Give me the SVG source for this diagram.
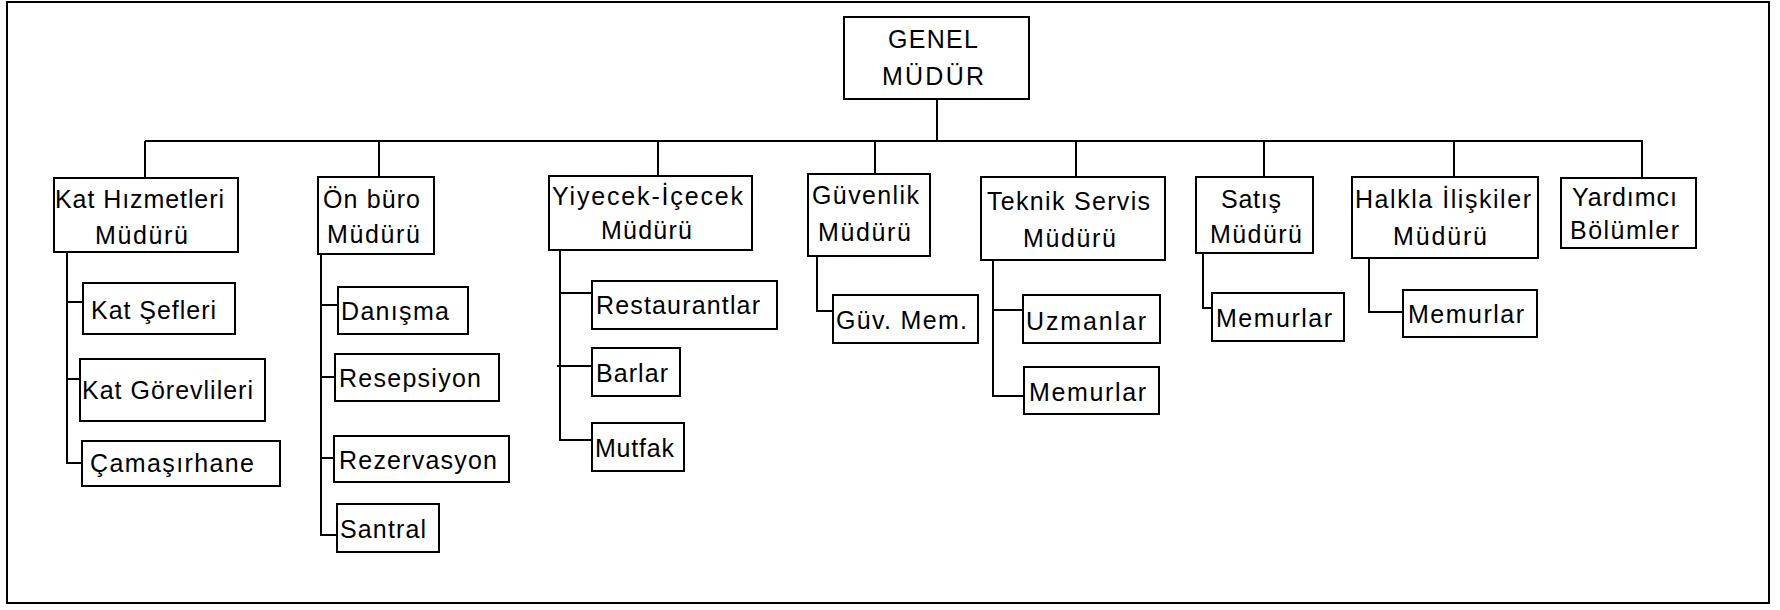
<svg xmlns="http://www.w3.org/2000/svg" width="1780" height="610" viewBox="0 0 1780 610">
  <style>
    .box { fill: #ffffff; stroke: #000000; stroke-width: 2; }
    .wire { fill: none; stroke: #000000; stroke-width: 2; }
    .lbl { font-family: "Liberation Sans", Arial, sans-serif; font-size: 25px; fill: #000000; }
  </style>

  <rect x="0" y="0" width="1780" height="610" fill="#ffffff"/>
  <!-- outer frame -->
  <rect x="7" y="2" width="1762" height="601" class="wire"/>

  <g id="connectors">
    <!-- top bus -->
    <path class="wire" d="M937,100 V141 M145,141 H1643"/>
    <path class="wire" d="M145,141 V179 M379,141 V177 M658,141 V176 M875,141 V174 M1076,141 V177 M1264,141 V177 M1454,141 V177 M1642,141 V178"/>
    <!-- Kat Hizmetleri branch -->
    <path class="wire" d="M67,252 V463 H82 M67,302 H83 M67,379 H80"/>
    <!-- Ön büro branch -->
    <path class="wire" d="M321,254 V535 H337 M321,305 H338 M321,377 H335 M321,458 H334"/>
    <!-- Yiyecek-İçecek branch -->
    <path class="wire" d="M560,250 V440 H592 M560,293 H592 M557,366 H592"/>
    <!-- Güvenlik branch -->
    <path class="wire" d="M817,256 V311 H833"/>
    <!-- Teknik Servis branch -->
    <path class="wire" d="M993,260 V396 H1024 M993,310 H1023"/>
    <!-- Satış branch -->
    <path class="wire" d="M1203,253 V308 H1212"/>
    <!-- Halkla İlişkiler branch -->
    <path class="wire" d="M1369,258 V312 H1403"/>
  </g>

  <g id="genel-mudur">
    <rect class="box" x="844" y="17" width="185" height="82"/>
    <text class="lbl" x="888" y="48" textLength="90" lengthAdjust="spacing">GENEL</text>
    <text class="lbl" x="882" y="85" textLength="102" lengthAdjust="spacing">MÜDÜR</text>
  </g>

  <g id="kat-hizmetleri">
    <rect class="box" x="54" y="178" width="184" height="74"/>
    <text class="lbl" x="55" y="208" textLength="169" lengthAdjust="spacing">Kat Hızmetleri</text>
    <text class="lbl" x="95" y="244" textLength="93" lengthAdjust="spacing">Müdürü</text>
  </g>
  <g id="on-buro">
    <rect class="box" x="318" y="177" width="116" height="77"/>
    <text class="lbl" x="323" y="208" textLength="97" lengthAdjust="spacing">Ön büro</text>
    <text class="lbl" x="327" y="243" textLength="93" lengthAdjust="spacing">Müdürü</text>
  </g>
  <g id="yiyecek-icecek">
    <rect class="box" x="549" y="176" width="203" height="74"/>
    <text class="lbl" x="552" y="205" textLength="191" lengthAdjust="spacing">Yiyecek-İçecek</text>
    <text class="lbl" x="601" y="239" textLength="91" lengthAdjust="spacing">Müdürü</text>
  </g>
  <g id="guvenlik">
    <rect class="box" x="808" y="174" width="122" height="82"/>
    <text class="lbl" x="812" y="204" textLength="107" lengthAdjust="spacing">Güvenlik</text>
    <text class="lbl" x="818" y="241" textLength="93" lengthAdjust="spacing">Müdürü</text>
  </g>
  <g id="teknik-servis">
    <rect class="box" x="981" y="177" width="184" height="83"/>
    <text class="lbl" x="987" y="210" textLength="163" lengthAdjust="spacing">Teknik Servis</text>
    <text class="lbl" x="1023" y="247" textLength="93" lengthAdjust="spacing">Müdürü</text>
  </g>
  <g id="satis">
    <rect class="box" x="1196" y="177" width="117" height="76"/>
    <text class="lbl" x="1221" y="208" textLength="60" lengthAdjust="spacing">Satış</text>
    <text class="lbl" x="1210" y="243" textLength="92" lengthAdjust="spacing">Müdürü</text>
  </g>
  <g id="halkla-iliskiler">
    <rect class="box" x="1352" y="177" width="186" height="81"/>
    <text class="lbl" x="1355" y="208" textLength="176" lengthAdjust="spacing">Halkla İlişkiler</text>
    <text class="lbl" x="1393" y="245" textLength="94" lengthAdjust="spacing">Müdürü</text>
  </g>
  <g id="yardimci">
    <rect class="box" x="1561" y="178" width="135" height="70"/>
    <text class="lbl" x="1572" y="206" textLength="105" lengthAdjust="spacing">Yardımcı</text>
    <text class="lbl" x="1570" y="239" textLength="109" lengthAdjust="spacing">Bölümler</text>
  </g>

  <g id="kat-sefleri">
    <rect class="box" x="83" y="283" width="152" height="51"/>
    <text class="lbl" x="91" y="319" textLength="125" lengthAdjust="spacing">Kat Şefleri</text>
  </g>
  <g id="kat-gorevlileri">
    <rect class="box" x="80" y="359" width="185" height="62"/>
    <text class="lbl" x="82" y="399" textLength="171" lengthAdjust="spacing">Kat Görevlileri</text>
  </g>
  <g id="camasirhane">
    <rect class="box" x="82" y="441" width="198" height="45"/>
    <text class="lbl" x="90" y="472" textLength="164" lengthAdjust="spacing">Çamaşırhane</text>
  </g>

  <g id="danisma">
    <rect class="box" x="338" y="287" width="130" height="47"/>
    <text class="lbl" x="341" y="320" textLength="108" lengthAdjust="spacing">Danışma</text>
  </g>
  <g id="resepsiyon">
    <rect class="box" x="335" y="354" width="164" height="47"/>
    <text class="lbl" x="339" y="387" textLength="142" lengthAdjust="spacing">Resepsiyon</text>
  </g>
  <g id="rezervasyon">
    <rect class="box" x="334" y="436" width="175" height="46"/>
    <text class="lbl" x="339" y="469" textLength="158" lengthAdjust="spacing">Rezervasyon</text>
  </g>
  <g id="santral">
    <rect class="box" x="337" y="504" width="102" height="48"/>
    <text class="lbl" x="340" y="538" textLength="86" lengthAdjust="spacing">Santral</text>
  </g>

  <g id="restaurantlar">
    <rect class="box" x="592" y="281" width="185" height="48"/>
    <text class="lbl" x="596" y="314" textLength="164" lengthAdjust="spacing">Restaurantlar</text>
  </g>
  <g id="barlar">
    <rect class="box" x="592" y="348" width="88" height="48"/>
    <text class="lbl" x="596" y="382" textLength="72" lengthAdjust="spacing">Barlar</text>
  </g>
  <g id="mutfak">
    <rect class="box" x="592" y="423" width="92" height="48"/>
    <text class="lbl" x="595" y="457" textLength="79" lengthAdjust="spacing">Mutfak</text>
  </g>

  <g id="guv-mem">
    <rect class="box" x="833" y="295" width="145" height="48"/>
    <text class="lbl" x="836" y="329" textLength="131" lengthAdjust="spacing">Güv. Mem.</text>
  </g>

  <g id="uzmanlar">
    <rect class="box" x="1023" y="295" width="137" height="48"/>
    <text class="lbl" x="1026" y="330" textLength="120" lengthAdjust="spacing">Uzmanlar</text>
  </g>
  <g id="teknik-memurlar">
    <rect class="box" x="1024" y="367" width="135" height="47"/>
    <text class="lbl" x="1029" y="401" textLength="117" lengthAdjust="spacing">Memurlar</text>
  </g>

  <g id="satis-memurlar">
    <rect class="box" x="1212" y="293" width="132" height="48"/>
    <text class="lbl" x="1216" y="327" textLength="116" lengthAdjust="spacing">Memurlar</text>
  </g>

  <g id="halkla-memurlar">
    <rect class="box" x="1403" y="290" width="134" height="47"/>
    <text class="lbl" x="1408" y="323" textLength="116" lengthAdjust="spacing">Memurlar</text>
  </g>
</svg>
